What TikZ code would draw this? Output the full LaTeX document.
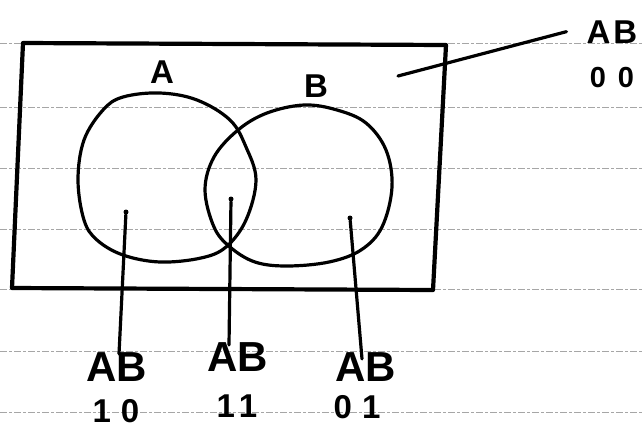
\documentclass[tikz,border=0pt]{standalone}
\usepackage{fontspec}
\setmainfont{Liberation Sans}
\begin{document}
\begin{tikzpicture}[x=1pt,y=-1pt,
  ink/.style={line width=3.2pt,line join=round,line cap=round},
  frame/.style={line width=4.2pt,line join=round,line cap=round},
  rule/.style={black!35,line width=0.8pt,dash pattern=on 7pt off 2pt on 3pt off 2pt},
  big/.style={font=\fontsize{42}{42}\selectfont\bfseries,inner sep=0pt,anchor=base},
  mid/.style={font=\fontsize{33}{33}\selectfont\bfseries,inner sep=0pt,anchor=base},
  pin/.style={line width=3.2pt,line cap=round},
  dotpt/.style={circle,fill=black,inner sep=0pt,minimum size=5pt}]
\useasboundingbox (0,0) rectangle (644,432);
\fill[white] (0,0) rectangle (644,432);
% lined paper
\foreach \yy in {43,107,168,229,289,351,412}
  \draw[rule] (0,\yy) -- (644,\yy);
% universe frame
\draw[frame] (23,43) -- (446,45) -- (433,290) -- (12,288) -- cycle;
% set A
\draw[ink] plot[smooth cycle,tension=0.6] coordinates {
  (160,93) (197,100) (230,120) (246,147) (256,180) (246,220) (226,247)
  (201,258) (160,262) (123,255) (97,240) (84,220) (78,180) (84,140) (103,110) (123,97)};
% set B
\draw[ink] plot[smooth cycle,tension=0.6] coordinates {
  (304,105) (337,110) (366,123) (386,150) (392,187) (382,227) (361,250)
  (329,262) (287,266) (255,262) (230,247) (214,227) (205,190) (214,157) (238,130) (267,113)};
% set names
\node[mid] (nA) at (162,83) {A};
\node[mid] (nB) at (316,97) {B};
% region points
\node[dotpt] (dA) at (126,212) {};
\node[dotpt] (dAB) at (231,199) {};
\node[dotpt] (dB) at (350,218) {};
\coordinate (dN) at (398,76);
% labels
\node[big] (lA) at (117,381) {AB};
\node[mid] (vA) at (116,422) {1\hspace{10pt}0};
\node[big] (lAB) at (238,371) {AB};
\node[mid] (vAB) at (237,417) {1\hspace{4pt}1};
\node[big] (lB) at (366,381) {AB};
\node[mid] (vB) at (357,418) {0\hspace{10pt}1};
\node[font=\fontsize{33}{33}\selectfont\bfseries,inner sep=0pt,anchor=base] (lN) at (612,43) {A\hspace{3pt}B};
\node[font=\fontsize{29}{29}\selectfont\bfseries,inner sep=0pt,anchor=base] (vN) at (612,87) {0\hspace{12pt}0};
% connectors
\draw[pin] (dA) -- ([xshift=2pt,yshift=-2pt]lA.north);
\draw[pin] (dAB) -- ([xshift=-9pt,yshift=-3pt]lAB.north);
\draw[pin] (dB) -- ([xshift=-4pt,yshift=-7pt]lB.north);
\draw[pin] (dN) -- ([xshift=-20pt]lN.west);
\end{tikzpicture}
\end{document}
